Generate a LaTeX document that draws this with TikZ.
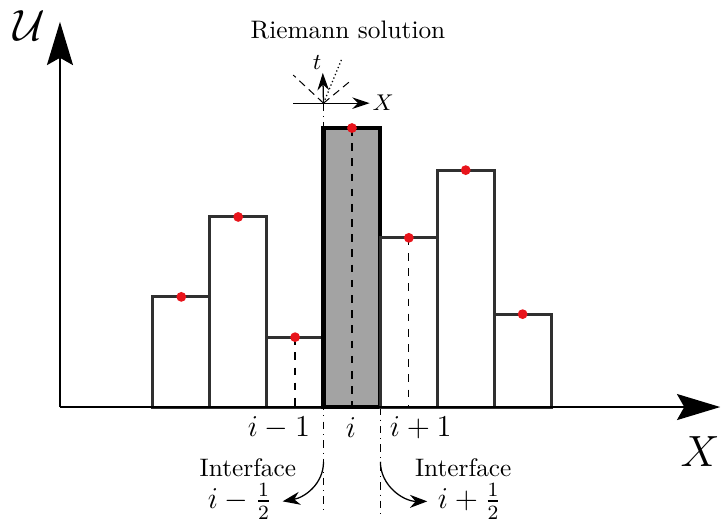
\documentclass[tikz,border=0pt]{standalone}
\usepackage{xcolor}
\usepackage{tikz}
\usepackage{amsmath}
\usetikzlibrary{positioning, arrows.meta, calc}
\definecolor{dotred}{HTML}{E8141B}
\definecolor{barln}{HTML}{303030}
\definecolor{cellg}{HTML}{A3A3A3}

\begin{document}
\begin{tikzpicture}[
    cell/.style={draw=barln,line width=1.2pt,fill=white},
    mid/.style={dashed,line width=0.5pt},
    iface/.style={dash dot,line width=0.4pt},
    lbl/.style={font=\large},
    bigarrow/.style={-{Stealth[length=6mm,width=3.6mm,inset=1mm]},line width=1pt}
  ]
  \useasboundingbox (-0.833,-1.597) rectangle (9.222,5.653);
  \def\bw{0.79}
  \def\xo{1.29}
  % interfaces (behind the cells)
  \coordinate (fan) at (\xo+3*\bw,4.22);
  \coordinate (lo) at (\xo+3*\bw,-1.5);
  \coordinate (ro) at (\xo+4*\bw,-1.5);
  \coordinate (rt) at (\xo+4*\bw,0);
  \draw[iface] (fan) -- (lo);
  \draw[iface] (rt) -- (ro);
  % cells
  \draw[cell] (\xo+0*\bw,0) rectangle (\xo+1*\bw,1.53);
  \draw[cell] (\xo+1*\bw,0) rectangle (\xo+2*\bw,2.64);
  \draw[cell] (\xo+2*\bw,0) rectangle (\xo+3*\bw,0.97);
  \draw[cell,fill=cellg,line width=1.6pt,draw=black] (\xo+3*\bw,0) rectangle (\xo+4*\bw,3.875);
  \draw[cell] (\xo+4*\bw,0) rectangle (\xo+5*\bw,2.35);
  \draw[cell] (\xo+5*\bw,0) rectangle (\xo+6*\bw,3.29);
  \draw[cell] (\xo+6*\bw,0) rectangle (\xo+7*\bw,1.29);
  % cell averages
  \draw[mid] (\xo+2.5*\bw,0.97) -- (\xo+2.5*\bw,0);
  \draw[mid] (\xo+3.5*\bw,3.875) -- (\xo+3.5*\bw,0);
  \draw[mid] (\xo+4.5*\bw,2.35) -- (\xo+4.5*\bw,0);
  \fill[dotred] (\xo+0.5*\bw,1.53) circle (0.068);
  \fill[dotred] (\xo+1.5*\bw,2.64) circle (0.068);
  \fill[dotred] (\xo+2.5*\bw,0.97) circle (0.068);
  \fill[dotred] (\xo+3.5*\bw,3.875) circle (0.068);
  \fill[dotred] (\xo+4.5*\bw,2.35) circle (0.068);
  \fill[dotred] (\xo+5.5*\bw,3.29) circle (0.068);
  \fill[dotred] (\xo+6.5*\bw,1.29) circle (0.068);
  % axes
  \coordinate (O) at (0,0);
  \coordinate (xt) at (9.17,0);
  \coordinate (yt) at (0,5.35);
  \draw[bigarrow] (O) -- (xt);
  \draw[bigarrow] (O) -- (yt);
  \node[font=\LARGE] (ulab) at (-0.42,5.3) {$\mathcal{U}$};
  \node[font=\LARGE] (xlab) at (8.89,-0.62) {$X$};
  \node[lbl] (im1) at (3.04,-0.29) {$i-1$};
  \node[lbl] (ii) at (4.04,-0.29) {$i$};
  \node[lbl] (ip1) at (5.01,-0.29) {$i+1$};
  % Riemann fan
  \node (title) at (4.0,5.24) {Riemann solution};
  \coordinate (fw) at (3.24,4.22);
  \coordinate (fe) at (4.30,4.22);
  \coordinate (fn) at (3.65,4.64);
  \draw[-{Stealth[length=2.4mm,width=1.6mm]},line width=0.5pt] (fw) -- (fe);
  \draw[-{Stealth[length=2.4mm,width=1.6mm]},line width=0.5pt] (fan) -- (fn);
  \node[font=\small,right=0pt of fe,inner sep=1pt] (fx) {$X$};
  \node[font=\small] (ft) at (3.57,4.79) {$t$};
  \draw[densely dashed,line width=0.4pt] (fan) -- ++(-0.42,0.39);
  \draw[densely dotted,line width=0.5pt] (fan) -- ++(0.26,0.63);
  \draw[densely dashed,line width=0.4pt] (fan) -- ++(0.40,0.33);
  % interface labels
  \node[inner sep=0pt] (ifl) at (2.61,-0.84) {Interface};
  \node[lbl,inner sep=0pt] (hl) at (2.5,-1.31) {$i-\frac{1}{2}$};
  \node[inner sep=0pt] (ifr) at (5.6,-0.84) {Interface};
  \node[lbl,inner sep=0pt] (hr) at (5.69,-1.31) {$i+\frac{1}{2}$};
  \coordinate (al) at (\xo+3*\bw,-0.76);
  \coordinate (ar) at (\xo+4*\bw,-0.76);
  \draw[-{Stealth[length=2.4mm,width=1.8mm]},line width=0.5pt] (al) to[out=-90,in=10] ([xshift=4pt]hl.east);
  \draw[-{Stealth[length=2.4mm,width=1.8mm]},line width=0.5pt] (ar) to[out=-90,in=180] ([xshift=-4pt]hr.west);
\end{tikzpicture}
\end{document}
